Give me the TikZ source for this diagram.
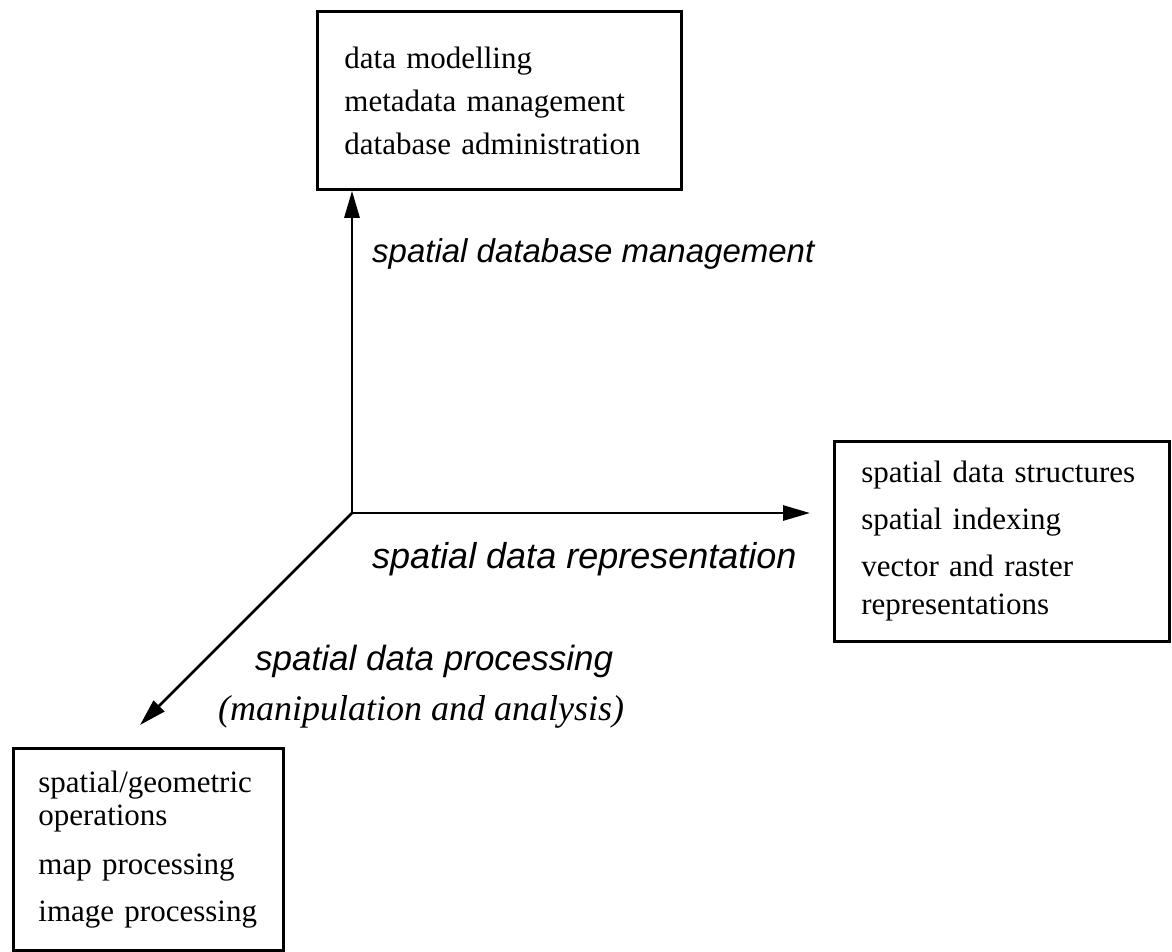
\documentclass[tikz,border=0pt]{standalone}
\usepackage{fontspec}
\setmainfont{Liberation Serif}
\newfontfamily\axisfont{Liberation Sans}
\usetikzlibrary{arrows.meta}
\tikzset{
  itembox/.style={draw, line width=2.8pt, anchor=north west, align=left,
    inner ysep=0pt, font=\fontsize{31}{38}\selectfont},
  axisline/.style={line width=2.8pt, -{Triangle[length=27pt,width=15pt]}},
  axislabel/.style={anchor=base west, inner sep=0pt,
    font=\axisfont\itshape\fontsize{35}{35}\selectfont},
  serlabel/.style={anchor=base west, inner sep=0pt,
    font=\itshape\fontsize{36}{36}\selectfont}
}
\begin{document}
\begin{tikzpicture}[x=1pt,y=-1pt]
\useasboundingbox (0,0) rectangle (1172,951);
% boxes
\node[itembox, minimum width=364pt, minimum height=178pt, text width=310pt, inner xsep=27pt,
      font=\fontsize{31}{43}\selectfont] (top) at (316,10)
  {data modelling\\metadata management\\database administration};
\node[itembox, minimum width=335pt, minimum height=200pt, text width=281pt, inner xsep=27pt] (right) at (833,440)
  {spatial data structures\\[9pt]spatial indexing\\[9pt]vector and raster\\representations};
\node[itembox, minimum width=256pt, minimum height=202pt, text width=220pt, inner xsep=25pt,
      font=\fontsize{31}{33}\selectfont] (bottom) at (12,747)
  {spatial/geometric\\operations\\[16pt]map processing\\[14pt]image processing};
% axes
\coordinate (O) at (352,513);
\coordinate (htip) at (810,513);
\coordinate (dtip) at (140,725);
\draw[axisline] (O) -- (O |- top.south);
\draw[axisline] (O) -- (htip);
\draw[axisline] (O) -- (dtip);
% labels
\node[axislabel, font=\axisfont\itshape\fontsize{33}{33}\selectfont] (lv) at (372,262) {spatial database management};
\node[axislabel, font=\axisfont\itshape\fontsize{36}{36}\selectfont] (lh) at (372,568) {spatial data representation};
\node[axislabel] (ld) at (255,670) {spatial data processing};
\node[serlabel] (ld2) at (218,720) {(manipulation and analysis)};
\end{tikzpicture}
\end{document}
